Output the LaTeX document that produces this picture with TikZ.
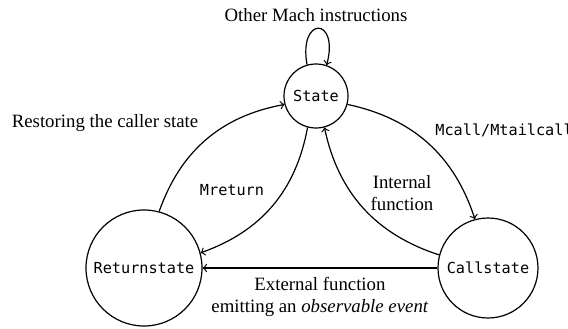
\documentclass[tikz,border=0pt]{standalone}
\usepackage{fontspec}
\setmainfont{Liberation Serif}
\setmonofont{DejaVu Sans Mono}
\begin{document}
\begin{tikzpicture}[x=0.5pt,y=0.5pt,
  every node/.style={font=\fontsize{9.4}{11}\selectfont},
  st/.style={draw, circle, inner sep=0pt, line width=0.6pt, font=\fontsize{7.6}{9}\ttfamily},
  edge/.style={->, line width=0.6pt},
  lab/.style={align=center, inner sep=0pt},
  mono/.style={inner sep=0pt, font=\fontsize{7.6}{9}\ttfamily}]
\useasboundingbox (0,0) rectangle (568,328);
\node[st, minimum size=32pt] (S) at (316,232) {State};
\node[st, minimum size=58pt] (R) at (144,60) {Returnstate};
\node[st, minimum size=50pt] (C) at (488,60) {Callstate};
\draw[edge] (S.106) .. controls +(100:50) and +(75:50) .. (S.71);
\draw[edge] (S) to[bend left=30] (C);
\draw[edge] (C) to[bend left=30] (S);
\draw[edge] (S) to[bend left=30] (R);
\draw[edge] (R) to[bend left=30] (S);
\draw[edge] (C) -- (R);
\node[lab] (lloop) at (316,313) {Other Mach instructions};
\node[lab] (lrest) at (105,205) {Restoring the caller state};
\node[mono] (lmret) at (232,138) {Mreturn};
\node[mono, anchor=west] (lmcall) at (435,198) {Mcall/Mtailcall};
\node[lab] (lint) at (402,135) {Internal\\function};
\node[lab] (lext) at (320,31) {External function\\emitting an \textit{observable event}};
\end{tikzpicture}
\end{document}
